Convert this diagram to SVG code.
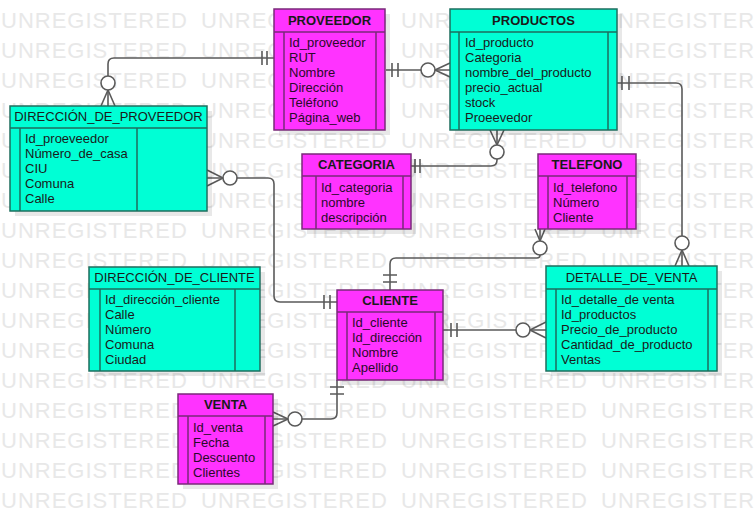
<svg xmlns="http://www.w3.org/2000/svg" width="756" height="524" viewBox="0 0 756 524">
<style>
.wm{font-family:"Liberation Sans",Arial,sans-serif;font-size:22px;letter-spacing:1px;fill:#e8e8e8}
.sh{fill:#000;fill-opacity:0.09}
.mg{fill:#ff33ff;stroke:#7a2a7a;stroke-width:1.5}
.cy{fill:#00ffd5;stroke:#1e6e5e;stroke-width:1.5}
.ln{fill:none;stroke:#7a2a7a;stroke-width:1.5}
.lc{fill:none;stroke:#1e6e5e;stroke-width:1.5}
.t{font-family:"Liberation Sans",Arial,sans-serif;font-size:13px;fill:#1a1a1a;text-anchor:middle}
.b{font-weight:bold}
.a{font-family:"Liberation Sans",Arial,sans-serif;font-size:13px;fill:#1a1a1a}
.am{fill:#2a0a2a}
.c{fill:none;stroke:#5a5a5a;stroke-width:1.6}
.o{fill:#fff;stroke:#5a5a5a;stroke-width:1.6}
</style>
<rect width="756" height="524" fill="#fff"/>
<g id="watermark" class="wm">
<text y="28"><tspan x="1">UNREGISTERED</tspan><tspan x="201">UNREGISTERED</tspan><tspan x="401">UNREGISTERED</tspan><tspan x="601">UNREGISTERED</tspan></text>
<text y="58"><tspan x="1">UNREGISTERED</tspan><tspan x="201">UNREGISTERED</tspan><tspan x="401">UNREGISTERED</tspan><tspan x="601">UNREGISTERED</tspan></text>
<text y="88"><tspan x="1">UNREGISTERED</tspan><tspan x="201">UNREGISTERED</tspan><tspan x="401">UNREGISTERED</tspan><tspan x="601">UNREGISTERED</tspan></text>
<text y="118"><tspan x="1">UNREGISTERED</tspan><tspan x="201">UNREGISTERED</tspan><tspan x="401">UNREGISTERED</tspan><tspan x="601">UNREGISTERED</tspan></text>
<text y="148"><tspan x="1">UNREGISTERED</tspan><tspan x="201">UNREGISTERED</tspan><tspan x="401">UNREGISTERED</tspan><tspan x="601">UNREGISTERED</tspan></text>
<text y="178"><tspan x="1">UNREGISTERED</tspan><tspan x="201">UNREGISTERED</tspan><tspan x="401">UNREGISTERED</tspan><tspan x="601">UNREGISTERED</tspan></text>
<text y="208"><tspan x="1">UNREGISTERED</tspan><tspan x="201">UNREGISTERED</tspan><tspan x="401">UNREGISTERED</tspan><tspan x="601">UNREGISTERED</tspan></text>
<text y="238"><tspan x="1">UNREGISTERED</tspan><tspan x="201">UNREGISTERED</tspan><tspan x="401">UNREGISTERED</tspan><tspan x="601">UNREGISTERED</tspan></text>
<text y="268"><tspan x="1">UNREGISTERED</tspan><tspan x="201">UNREGISTERED</tspan><tspan x="401">UNREGISTERED</tspan><tspan x="601">UNREGISTERED</tspan></text>
<text y="298"><tspan x="1">UNREGISTERED</tspan><tspan x="201">UNREGISTERED</tspan><tspan x="401">UNREGISTERED</tspan><tspan x="601">UNREGISTERED</tspan></text>
<text y="328"><tspan x="1">UNREGISTERED</tspan><tspan x="201">UNREGISTERED</tspan><tspan x="401">UNREGISTERED</tspan><tspan x="601">UNREGISTERED</tspan></text>
<text y="358"><tspan x="1">UNREGISTERED</tspan><tspan x="201">UNREGISTERED</tspan><tspan x="401">UNREGISTERED</tspan><tspan x="601">UNREGISTERED</tspan></text>
<text y="388"><tspan x="1">UNREGISTERED</tspan><tspan x="201">UNREGISTERED</tspan><tspan x="401">UNREGISTERED</tspan><tspan x="601">UNREGISTERED</tspan></text>
<text y="418"><tspan x="1">UNREGISTERED</tspan><tspan x="201">UNREGISTERED</tspan><tspan x="401">UNREGISTERED</tspan><tspan x="601">UNREGISTERED</tspan></text>
<text y="448"><tspan x="1">UNREGISTERED</tspan><tspan x="201">UNREGISTERED</tspan><tspan x="401">UNREGISTERED</tspan><tspan x="601">UNREGISTERED</tspan></text>
<text y="478"><tspan x="1">UNREGISTERED</tspan><tspan x="201">UNREGISTERED</tspan><tspan x="401">UNREGISTERED</tspan><tspan x="601">UNREGISTERED</tspan></text>
<text y="508"><tspan x="1">UNREGISTERED</tspan><tspan x="201">UNREGISTERED</tspan><tspan x="401">UNREGISTERED</tspan><tspan x="601">UNREGISTERED</tspan></text>
</g>

<g id="connectors">
<!-- PROVEEDOR - DIRECCION_DE_PROVEEDOR -->
<path class="c" d="M274,58 H114 Q108,58 108,64 V106"/>
<path class="c" d="M262,51 V65 M267,51 V65"/>
<path class="c" d="M108,90 L101,106 M108,90 L115,106"/>
<circle class="o" cx="108" cy="83" r="7"/>
<!-- PROVEEDOR - PRODUCTOS -->
<path class="c" d="M386,70 H450"/>
<path class="c" d="M392,63 V77 M398,63 V77"/>
<path class="c" d="M435,70 L450,63 M435,70 L450,77"/>
<circle class="o" cx="428" cy="70" r="7"/>
<!-- PRODUCTOS - CATEGORIA -->
<path class="c" d="M497,130 V160 Q497,166 491,166 H411"/>
<path class="c" d="M415,159 V173 M420,159 V173"/>
<path class="c" d="M497,145 L490,130 M497,145 L504,130"/>
<circle class="o" cx="497" cy="152" r="7"/>
<!-- PRODUCTOS - DETALLE_DE_VENTA -->
<path class="c" d="M617,83 H676 Q682,83 682,89 V266"/>
<path class="c" d="M622,76 V90 M629,76 V90"/>
<path class="c" d="M682,250 L675,266 M682,250 L689,266"/>
<circle class="o" cx="682" cy="243" r="7"/>
<!-- TELEFONO - CLIENTE -->
<path class="c" d="M540,229 V255 Q540,258 537,258 H396 Q390,258 390,264 V290"/>
<path class="c" d="M383,275 H397 M383,282 H397"/>
<path class="c" d="M540,241 L535,229 M540,241 L545,229"/>
<circle class="o" cx="540" cy="248" r="7"/>
<!-- DIRECCION_DE_PROVEEDOR - CLIENTE -->
<path class="c" d="M207,178 H268 Q274,178 274,184 V296 Q274,302 280,302 H337"/>
<path class="c" d="M324,295 V309 M330,295 V309"/>
<path class="c" d="M223,178 L207,170 M223,178 L207,186"/>
<circle class="o" cx="230" cy="178" r="7"/>
<!-- CLIENTE - DETALLE_DE_VENTA -->
<path class="c" d="M443,330 H546"/>
<path class="c" d="M451,323 V337 M457,323 V337"/>
<path class="c" d="M530,330 L546,322 M530,330 L546,338"/>
<circle class="o" cx="523" cy="330" r="7"/>
<!-- CLIENTE - VENTA -->
<path class="c" d="M337,380 V413 Q337,419 331,419 H273"/>
<path class="c" d="M330,387 H344 M330,394 H344"/>
<path class="c" d="M288,419 L273,412 M288,419 L273,426"/>
<circle class="o" cx="295" cy="419" r="7"/>
</g>

<g id="proveedor">
<rect class="sh" x="279" y="14" width="111" height="121"/>
<rect class="mg" x="274" y="9" width="111" height="121"/>
<path class="ln" d="M274,32 H385 M284,32 V130 M376,32 V130"/>
<text class="t b" x="329.5" y="25">PROVEEDOR</text>
<text class="a am" x="289" y="47">Id_proveedor</text>
<text class="a am" x="289" y="62">RUT</text>
<text class="a am" x="289" y="77">Nombre</text>
<text class="a am" x="289" y="92">Dirección</text>
<text class="a am" x="289" y="107">Teléfono</text>
<text class="a am" x="289" y="122">Página_web</text>
</g>

<g id="productos">
<rect class="sh" x="455" y="14" width="167" height="121"/>
<rect class="cy" x="450" y="9" width="167" height="121"/>
<path class="lc" d="M450,32 H617 M459,32 V130 M608,32 V130"/>
<text class="t b" x="533.5" y="25">PRODUCTOS</text>
<text class="a" x="465" y="47">Id_producto</text>
<text class="a" x="465" y="62">Categoria</text>
<text class="a" x="465" y="77">nombre_del_producto</text>
<text class="a" x="465" y="92">precio_actual</text>
<text class="a" x="465" y="107">stock</text>
<text class="a" x="465" y="122">Proeevedor</text>
</g>

<g id="direccion_de_proveedor">
<rect class="sh" x="15" y="111" width="197" height="105"/>
<rect class="cy" x="10" y="106" width="197" height="105"/>
<path class="lc" d="M10,128 H207 M20,128 V211 M137,128 V211"/>
<text class="t" x="108.5" y="121">DIRECCIÓN_DE_PROVEEDOR</text>
<text class="a" x="25" y="143">Id_proeveedor</text>
<text class="a" x="25" y="158">Número_de_casa</text>
<text class="a" x="25" y="173">CIU</text>
<text class="a" x="25" y="188">Comuna</text>
<text class="a" x="25" y="203">Calle</text>
</g>

<g id="categoria">
<rect class="sh" x="307" y="159" width="109" height="75"/>
<rect class="mg" x="302" y="154" width="109" height="75"/>
<path class="ln" d="M302,176 H411 M316,176 V229 M403,176 V229"/>
<text class="t b" x="356.5" y="169">CATEGORIA</text>
<text class="a am" x="321" y="192">Id_categoria</text>
<text class="a am" x="321" y="207">nombre</text>
<text class="a am" x="321" y="222">descripción</text>
</g>

<g id="telefono">
<rect class="sh" x="543" y="159" width="98" height="75"/>
<rect class="mg" x="538" y="154" width="98" height="75"/>
<path class="ln" d="M538,176 H636 M548,176 V229 M627,176 V229"/>
<text class="t b" x="587" y="169">TELEFONO</text>
<text class="a am" x="553" y="192">Id_telefono</text>
<text class="a am" x="553" y="207">Número</text>
<text class="a am" x="553" y="222">Cliente</text>
</g>

<g id="direccion_de_cliente">
<rect class="sh" x="94" y="272" width="171" height="104"/>
<rect class="cy" x="89" y="267" width="171" height="104"/>
<path class="lc" d="M89,289 H260 M100,289 V371 M235,289 V371"/>
<text class="t" x="174.5" y="282">DIRECCIÓN_DE_CLIENTE</text>
<text class="a" x="105" y="304">Id_dirección_cliente</text>
<text class="a" x="105" y="319">Calle</text>
<text class="a" x="105" y="334">Número</text>
<text class="a" x="105" y="349">Comuna</text>
<text class="a" x="105" y="364">Ciudad</text>
</g>

<g id="cliente">
<rect class="sh" x="342" y="295" width="106" height="90"/>
<rect class="mg" x="337" y="290" width="106" height="90"/>
<path class="ln" d="M337,312 H443 M347,312 V380 M435,312 V380"/>
<text class="t b" x="390" y="305">CLIENTE</text>
<text class="a am" x="352" y="327">Id_cliente</text>
<text class="a am" x="352" y="342">Id_dirección</text>
<text class="a am" x="352" y="357">Nombre</text>
<text class="a am" x="352" y="372">Apellido</text>
</g>

<g id="detalle_de_venta">
<rect class="sh" x="551" y="271" width="171" height="105"/>
<rect class="cy" x="546" y="266" width="171" height="105"/>
<path class="lc" d="M546,289 H717 M556,289 V371 M708,289 V371"/>
<text class="t" x="631.5" y="282">DETALLE_DE_VENTA</text>
<text class="a" x="561" y="304">Id_detalle_de venta</text>
<text class="a" x="561" y="319">Id_productos</text>
<text class="a" x="561" y="334">Precio_de_producto</text>
<text class="a" x="561" y="349">Cantidad_de_producto</text>
<text class="a" x="561" y="364">Ventas</text>
</g>

<g id="venta">
<rect class="sh" x="183" y="399" width="95" height="90"/>
<rect class="mg" x="178" y="394" width="95" height="90"/>
<path class="ln" d="M178,416 H273 M188,416 V484 M265,416 V484"/>
<text class="t b" x="225.5" y="409">VENTA</text>
<text class="a am" x="193" y="432">Id_venta</text>
<text class="a am" x="193" y="447">Fecha</text>
<text class="a am" x="193" y="462">Descuento</text>
<text class="a am" x="193" y="477">Clientes</text>
</g>
</svg>
